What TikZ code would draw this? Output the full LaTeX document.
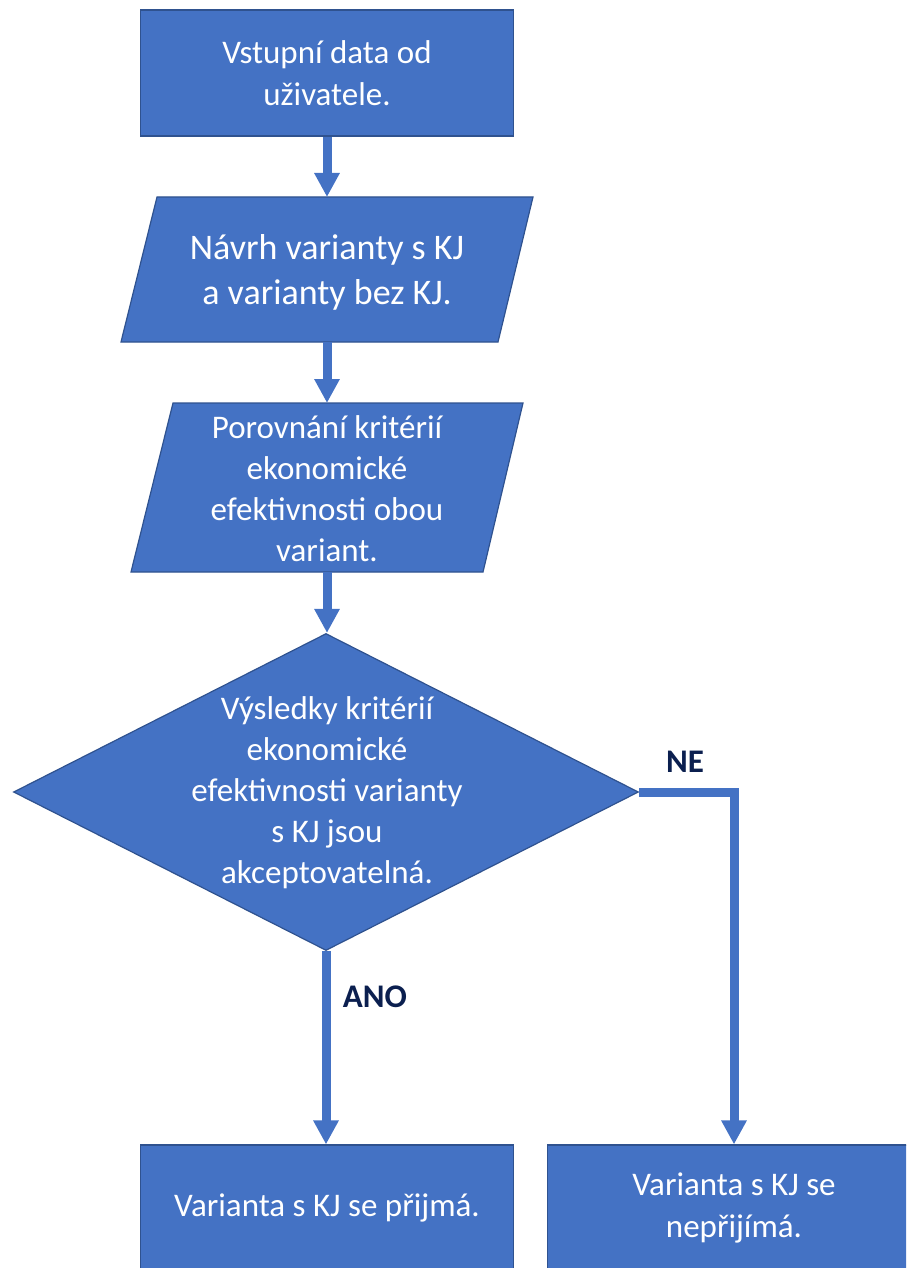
\documentclass[tikz,border=0pt]{standalone}
\usepackage{fontspec}
\setmainfont{Carlito}
\usetikzlibrary{arrows.meta,shapes.geometric}
\definecolor{boxblue}{HTML}{4472C4}
\definecolor{edgeblue}{HTML}{2F528F}
\definecolor{navy}{HTML}{0B1F4F}
\begin{document}
\begin{tikzpicture}[x=1pt,y=-1pt,
  box/.style={draw=edgeblue, line width=1.2pt, fill=boxblue, text=white, align=center,
    inner sep=0pt, minimum width=373pt, minimum height=126pt, font=\fontsize{33}{42}\selectfont},
  shapefill/.style={draw=edgeblue, line width=1.2pt, fill=boxblue},
  txt/.style={text=white, align=center, inner sep=0pt, font=\fontsize{33}{41}\selectfont},
  conn/.style={draw=boxblue, line width=9pt, -{Triangle[width=24pt,length=24pt]}},
  lbl/.style={text=navy, inner sep=0pt, font=\fontsize{33}{40}\selectfont\bfseries}]
\useasboundingbox (0,0) rectangle (906,1268);
\clip (0,0) rectangle (906,1268);
% box 1
\node[box] (b1) at (327,73) {Vstupní data od\\uživatele.};
% parallelogram 2
\path[shapefill] (157,197) -- (533,197) -- (498,342) -- (121,342) -- cycle;
\coordinate (p2t) at (327,197);
\coordinate (p2b) at (327,342);
\node[txt, font=\fontsize{36}{45}\selectfont] (t2) at (327,272) {Návrh varianty s KJ\\a varianty bez KJ.};
% parallelogram 3
\path[shapefill] (173,403) -- (523,403) -- (483,572) -- (131,572) -- cycle;
\coordinate (p3t) at (327,403);
\coordinate (p3b) at (327,572);
\node[txt] (t3) at (327,489) {Porovnání kritérií\\ekonomické\\efektivnosti obou\\variant.};
% diamond
\node[diamond, draw=edgeblue, line width=1.2pt, fill=boxblue, inner sep=0pt,
      minimum width=625pt, minimum height=317pt] (d) at (326,792) {};
\node[txt] (dt) at (327,793) {Výsledky kritérií\\ekonomické\\efektivnosti varianty\\s KJ jsou\\akceptovatelná.};
% bottom boxes
\node[box] (b4) at (327,1208) {Varianta s KJ se přijmá.};
\node[box] (b5) at (734,1208) {Varianta s KJ se\\nepřijímá.};
% connectors
\draw[conn] (b1.south) -- (p2t);
\draw[conn] (p2b) -- (p3t);
\draw[conn] (p3b) -- (p3b |- d.north);
\draw[conn] (d.south) -- (d.south |- b4.north);
\draw[conn] (d.east) -| (b5.north);
% labels
\node[lbl] (ne) at (685,762) {NE};
\node[lbl] (ano) at (375,997) {ANO};
\end{tikzpicture}
\end{document}
